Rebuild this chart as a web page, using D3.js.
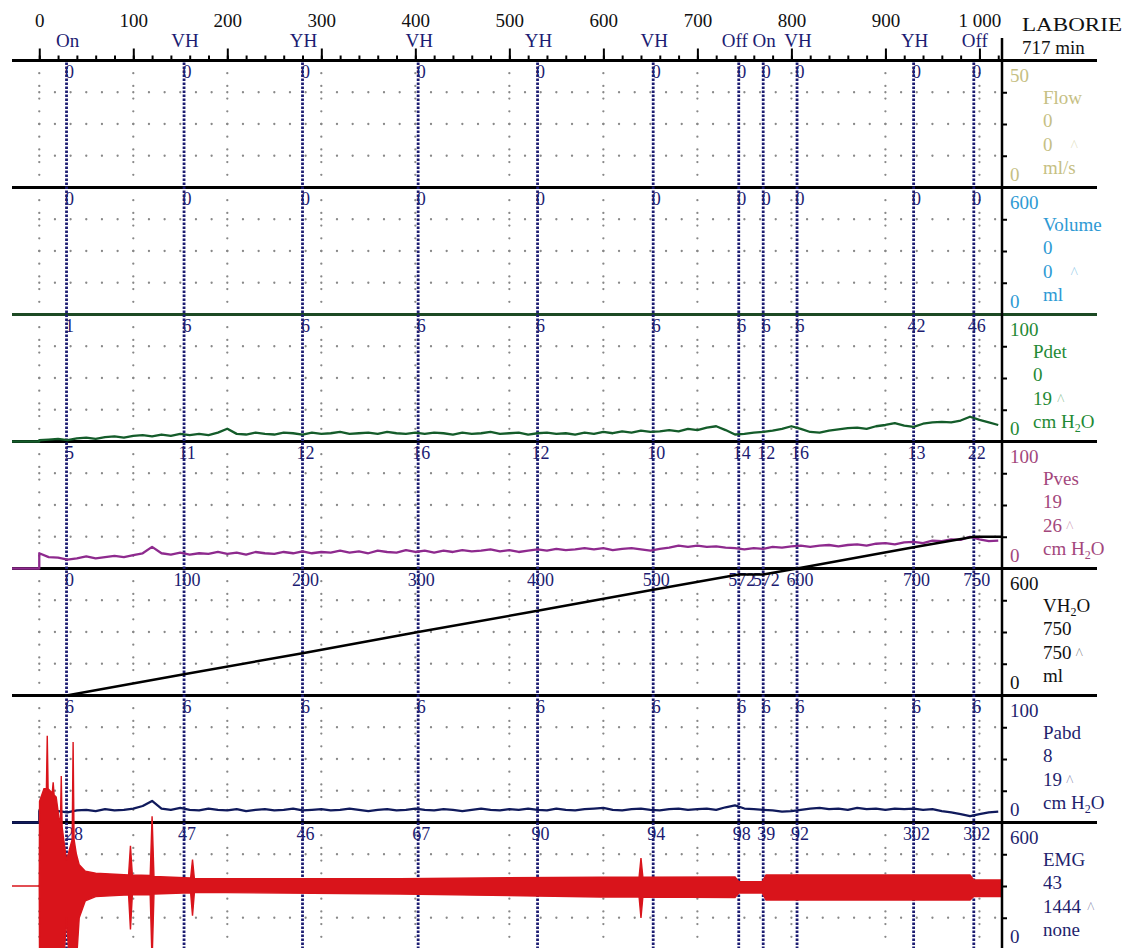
<!DOCTYPE html>
<html>
<head>
  <meta charset="utf-8">
  <title>Urodynamic trace</title>
  <script src="https://cdn.jsdelivr.net/npm/d3@7/dist/d3.min.js"></script>
  <style>
    html, body { margin: 0; padding: 0; background: #fff; }
    svg text { font-family: "Liberation Serif", "Times New Roman", serif; }
  </style>
</head>
<body>
<svg id="chart" width="1126" height="948"></svg>
<script>
  // ---- data ----
  const axisTicks = [0, 100, 200, 300, 400, 500, 600, 700, 800, 900, 1000]
  const axisLabels = ['0', '100', '200', '300', '400', '500', '600', '700', '800', '900', '1 000']

  const eventTimes = [29, 154, 280, 403, 530, 653, 744, 770, 806, 930, 994]
  const eventNames = ['On', 'VH', 'YH', 'VH', 'YH', 'VH', 'Off', 'On', 'VH', 'YH', 'Off']

  const channelNames = ['Flow', 'Volume', 'Pdet', 'Pves', 'VH2O', 'Pabd', 'EMG']
  const channelUnits = ['ml/s', 'ml', 'cm H2O', 'cm H2O', 'ml', 'cm H2O', 'none']
  const channelMax = [50, 600, 100, 100, 600, 100, 600]
  const channelNow = ['0', '0', '0', '19', '750', '8', '43']
  const channelPeak = ['0', '0', '19', '26', '750', '19', '1444']

  // values printed at each event, per channel
  const flowMarks = ['0', '0', '0', '0', '0', '0', '0', '0', '0', '0', '0']
  const volumeMarks = ['0', '0', '0', '0', '0', '0', '0', '0', '0', '0', '0']
  const pdetMarks = ['1', '6', '6', '6', '6', '6', '6', '6', '6', '42', '46']
  const pvesMarks = ['5', '11', '12', '16', '12', '10', '14', '12', '16', '13', '22']
  const vh2oMarks = ['0', '100', '200', '300', '400', '500', '572', '572', '600', '700', '750']
  const pabdMarks = ['6', '6', '6', '6', '6', '6', '6', '6', '6', '6', '6']
  const emgMarks = ['128', '47', '46', '67', '90', '94', '98', '39', '92', '302', '302']

  // flat channels
  const flowT = [-29, 1024]
  const flowV = [0, 0]
  const volumeT = [-29, 1024]
  const volumeV = [0, 0]

  // pressures, one reading every 10 s from t = 0 to 1020
  const sampleTimes = d3.range(0, 1021, 10)
  const pdetVals = [
    1, 1.5, 2, 1, 2.5, 3, 2, 3.5, 4, 3,
    4.5, 5, 4, 5.5, 4.5, 6, 5, 6, 5, 7,
    10, 6, 5.5, 7, 6, 5.5, 7, 6.5, 5.5, 7,
    6, 6.5, 7.5, 6, 6.5, 7, 6, 7.5, 6.5, 6,
    7, 6, 7, 6.5, 5.5, 7, 6, 6.5, 7.5, 6,
    6.5, 7, 5.5, 6.5, 7, 6, 6.5, 5.5, 7, 6,
    7.5, 6.5, 8, 7, 8.5, 7.5, 8, 9, 8, 10,
    9, 11, 12, 9, 5.5, 6, 7, 7.5, 8.5, 10,
    12, 10, 7.5, 7, 8.5, 9.5, 10.5, 11, 10, 12,
    13, 14.5, 12.5, 11.5, 14, 15, 15.5, 15, 16.5, 19.5,
    17, 15, 13
  ]
  const pvesVals = [
    12, 9, 8.5, 7, 8, 9.5, 8, 9, 10, 9,
    10.5, 12, 17, 12, 11, 12.5, 11, 12, 11.5, 13,
    11.5, 12.5, 11, 13, 12, 11.5, 13, 12, 13.5, 12,
    13, 12.5, 14, 12.5, 13.5, 12, 14, 13, 12.5, 14.5,
    13, 14, 12.5, 14, 13, 14.5, 13.5, 14, 15, 13.5,
    14.5, 13, 14, 15, 14, 15.5, 14.5, 15, 16, 15,
    16, 14.5, 15.5, 16, 15, 14, 15.5, 16.5, 18, 17,
    18, 17, 17.5, 16.5, 16, 15, 16, 15.5, 17, 16.5,
    17.5, 18, 17, 18, 18.5, 17.5, 18.5, 19, 18, 19.5,
    20, 19, 20.5, 21, 20, 22, 21.5, 23, 22.5, 25,
    23, 21.5, 22
  ]
  const pabdVals = [
    9, 10, 9, 8, 9.5, 10, 9, 10.5, 9.5, 10,
    11, 13, 17, 11, 10, 11.5, 10, 9.5, 11, 10,
    9.5, 10.5, 9, 10, 10.5, 9.5, 10, 11, 9.5, 10,
    10.5, 9.5, 10, 11, 10, 9, 10, 10.5, 9.5, 10,
    11, 10, 9.5, 10.5, 10, 9, 10, 11, 10, 9.5,
    10.5, 10, 11, 10, 9.5, 11, 10, 9.5, 10.5, 11,
    11.5, 10, 9.5, 10.5, 11, 10, 9.5, 10.5, 11, 10,
    10.5, 11, 10, 12, 13.5, 11, 10.5, 10, 9.5, 8.5,
    9, 10, 11, 11.5, 10.5, 11, 10, 11.5, 10.5, 11,
    10, 11, 10.5, 11, 10, 10.5, 9, 8, 6.5, 5,
    6.5, 8, 8.5
  ]
  // value before the transducers were zeroed (t < 0)
  const leadVals = [0, 0, 0]

  // infused volume
  const vh2oT = [-29, 29, 154, 280, 403, 530, 653, 744, 770, 806, 930, 994, 1024]
  const vh2oV = [0, 0, 100, 200, 300, 400, 500, 572, 572, 600, 700, 750, 750]

  // EMG envelope
  const emgT = [-29, 0, 0.3, 5, 7.6, 8.5, 9.4, 13.8, 14.8, 15.8, 18, 21, 22.5, 23.4, 24.3, 26, 29, 32, 35, 36,
    37, 39.5, 42.5, 49, 60, 95, 97, 99, 118, 120, 122, 161, 163, 165, 384, 597, 638, 640, 642, 740,
    744, 769, 773, 990, 994, 1024]
  const emgHi = [300, 300, 700, 760, 760, 1010, 760, 740, 790, 730, 720, 620, 600, 820, 580, 520, 420, 470, 520, 980,
    520, 450, 400, 370, 360, 352, 490, 352, 350, 630, 345, 338, 425, 334, 335, 342, 342, 432, 342, 343,
    320, 320, 352, 352, 328, 328]
  const emgLo = [300, 300, -60, -60, -60, -60, -60, -60, -60, -60, -60, -60, -60, -60, -60, -60, 150, -60, -60, -60,
    -60, -60, 150, 230, 250, 258, 95, 258, 258, -60, 262, 268, 160, 270, 262, 248, 248, 149, 248, 245,
    267, 267, 234, 234, 250, 250]

  // ---- styling ----
  const labelColors = ['#c6bf84', '#2e9ad4', '#1f8a35', '#a3477c', '#111111', '#1f1f6e', '#1f1f6e']
  const nameX = [1043, 1043, 1033, 1043, 1043, 1043, 1043]
  const caretGap = [18, 18, 5, 4, 4, 4, 6]
  const navy = '#1c1c72'

  const W = 1126, H = 948
  const plotLeft = 12, plotRight = 1002, sideRight = 1097
  const panelTop = 60.5, panelH = 127

  const svg = d3.select('#chart')
  const x = d3.scaleLinear().domain([-29, 1024]).range([plotLeft, plotRight])

  const panels = channelNames.map((name, i) => {
    const top = panelTop + i * panelH
    return {
      i, name, top,
      y: d3.scaleLinear().domain([0, channelMax[i]]).range([top + panelH, top])
    }
  })
  const marks = [flowMarks, volumeMarks, pdetMarks, pvesMarks, vh2oMarks, pabdMarks, emgMarks]

  // grid dots
  const gridG = svg.append('g')
  panels.forEach(p => {
    const cols = d3.cross(axisTicks, d3.range(1, 10)).map(([t, k]) => [x(t), p.top + k * panelH / 10])
    const rows = d3.cross(d3.range(0, 62).map(k => k * 100 / 6), [1, 2, 3]).map(([t, q]) => [x(t), p.top + q * panelH / 4])
    gridG.append('g').selectAll('circle')
      .data(cols.concat(rows))
      .join('circle')
      .attr('cx', d => d[0])
      .attr('cy', d => d[1])
      .attr('r', 1.15)
      .attr('fill', '#888')
  })

  // flat flow / volume traces sit on the panel floors
  const flatLine = (p, ts, vs, color) => {
    svg.append('path')
      .datum(ts.map((t, i) => [t, vs[i]]))
      .attr('d', d3.line().x(d => x(d[0])).y(d => p.y(d[1])))
      .attr('fill', 'none').attr('stroke', color).attr('stroke-width', 1.5)
  }
  flatLine(panels[0], flowT, flowV, labelColors[0])
  flatLine(panels[1], volumeT, volumeV, labelColors[1])

  // panel separators
  const seps = d3.range(0, 8).map(k => panelTop + k * panelH)
  svg.append('g').selectAll('line')
    .data(seps)
    .join('line')
    .attr('x1', plotLeft).attr('x2', sideRight)
    .attr('y1', d => d).attr('y2', d => d)
    .attr('stroke', (d, i) => i === 2 ? '#1d4a24' : '#000')
    .attr('stroke-width', 3)

  // event markers
  svg.append('g').selectAll('line')
    .data(eventTimes)
    .join('line')
    .attr('x1', d => x(d)).attr('x2', d => x(d))
    .attr('y1', panelTop + 2).attr('y2', H + 2)
    .attr('stroke', navy)
    .attr('stroke-width', 2.8)
    .attr('stroke-dasharray', '2.4,1.6')

  // event values at the top of each panel
  panels.forEach(p => {
    svg.append('g').selectAll('text')
      .data(eventTimes)
      .join('text')
      .attr('x', d => x(d) + 3)
      .attr('y', p.top + 17)
      .attr('text-anchor', 'middle')
      .attr('font-size', 18)
      .attr('fill', navy)
      .text((d, j) => marks[p.i][j])
  })

  // traces
  const pressure = (p, vals, lead, color) => {
    const pts = [[-29, lead], [0, lead]].concat(sampleTimes.map((t, i) => [t, vals[i]]))
    svg.append('path')
      .datum(pts)
      .attr('d', d3.line().x(d => x(d[0])).y(d => p.y(d[1])))
      .attr('fill', 'none').attr('stroke', color).attr('stroke-width', 2.3)
      .attr('stroke-linejoin', 'round')
  }
  pressure(panels[2], pdetVals, leadVals[0], '#145c2a')
  pressure(panels[3], pvesVals, leadVals[1], '#8e2a8e')
  pressure(panels[5], pabdVals, leadVals[2], '#101a5c')

  svg.append('path')
    .datum(vh2oT.map((t, i) => [t, vh2oV[i]]))
    .attr('d', d3.line().x(d => x(d[0])).y(d => panels[4].y(d[1])))
    .attr('fill', 'none').attr('stroke', '#000').attr('stroke-width', 2.5)

  svg.append('path')
    .datum(emgT.map((t, i) => [t, emgLo[i], emgHi[i]]))
    .attr('d', d3.area().x(d => x(d[0])).y0(d => panels[6].y(d[1])).y1(d => panels[6].y(d[2])))
    .attr('fill', '#d9141b').attr('stroke', '#d9141b').attr('stroke-width', 1.4)

  // right-hand axis
  svg.append('line')
    .attr('x1', plotRight).attr('x2', plotRight)
    .attr('y1', 38).attr('y2', H + 2)
    .attr('stroke', '#000').attr('stroke-width', 2.5)

  panels.forEach(p => {
    const m = channelMax[p.i]
    svg.append('g')
      .attr('transform', `translate(${plotRight},0)`)
      .call(d3.axisRight(p.y).tickValues([m / 4, m / 2, 3 * m / 4]).tickSize(5).tickFormat(''))
      .call(g => g.select('.domain').remove())
      .call(g => g.selectAll('line').attr('stroke-width', 2))
  })

  const richText = (sel, str) => {
    const k = str.indexOf('H2O')
    if (k < 0) { sel.text(str); return }
    sel.append('tspan').text(str.slice(0, k + 1))
    sel.append('tspan').text('2').attr('font-size', 12).attr('dy', 4)
    sel.append('tspan').text('O' + str.slice(k + 3)).attr('dy', -4)
  }

  panels.forEach(p => {
    const c = labelColors[p.i]
    const g = svg.append('g').attr('fill', c).attr('font-size', 19)
    g.append('text').attr('x', 1010).attr('y', p.top + 21).text(channelMax[p.i])
    g.append('text').attr('x', 1010).attr('y', p.top + 120).text('0')
    g.append('text').attr('x', nameX[p.i]).attr('y', p.top + 43).call(richText, channelNames[p.i])
    g.append('text').attr('x', nameX[p.i]).attr('y', p.top + 66).text(channelNow[p.i])
    const pk = g.append('text').attr('x', nameX[p.i]).attr('y', p.top + 90)
    pk.append('tspan').text(channelPeak[p.i])
    pk.append('tspan').attr('dx', caretGap[p.i]).attr('fill-opacity', 0.45).attr('font-size', 16).text('^')
    g.append('text').attr('x', nameX[p.i]).attr('y', p.top + 113).call(richText, channelUnits[p.i])
  })

  // top time axis
  const axisG = svg.append('g').attr('transform', `translate(0,${panelTop})`)
  axisG.call(d3.axisTop(x).tickValues(d3.range(0, 1021, 20)).tickSize(5).tickFormat(''))
  axisG.append('g')
    .call(d3.axisTop(x).tickValues(axisTicks).tickSize(12).tickPadding(22).tickFormat((d, i) => axisLabels[i]))
    .call(g => g.select('.domain').remove())
    .call(g => g.selectAll('text')
      .attr('font-size', 19)
      .attr('fill', '#111')
      .style('font-family', '"Liberation Serif", "Times New Roman", serif'))
  axisG.selectAll('.domain').remove()
  axisG.selectAll('line').attr('stroke', '#000').attr('stroke-width', 2)

  svg.append('g').selectAll('text')
    .data(eventTimes)
    .join('text')
    .attr('x', (d, i) => x(d) + (eventNames[i] === 'Off' && i < 10 ? -4 : 1))
    .attr('y', 47)
    .attr('text-anchor', 'middle')
    .attr('font-size', 19)
    .attr('fill', navy)
    .text((d, i) => eventNames[i])

  svg.append('text').attr('x', 1022).attr('y', 31).attr('font-size', 19).attr('fill', '#111')
    .attr('textLength', 100).attr('lengthAdjust', 'spacingAndGlyphs').text('LABORIE')
  svg.append('text').attr('x', 1022).attr('y', 54).attr('font-size', 19).attr('fill', '#111').text('717 min')
</script>
</body>
</html>
